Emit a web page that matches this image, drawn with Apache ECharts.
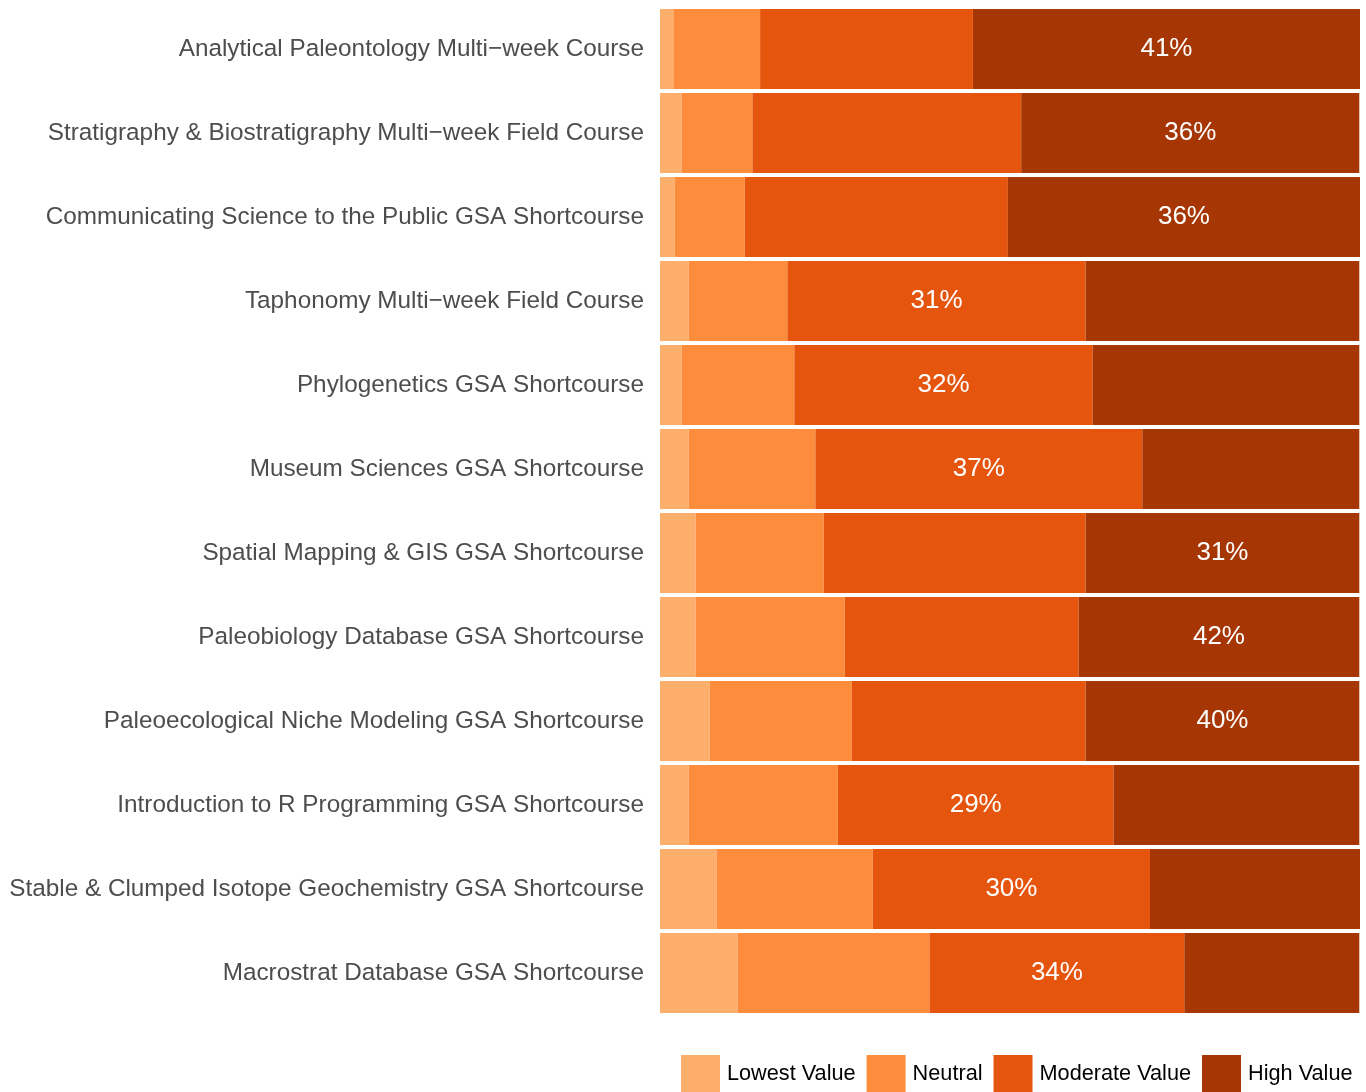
<!DOCTYPE html>
<html>
<head>
<meta charset="utf-8">
<script src="https://cdn.jsdelivr.net/npm/echarts@6/dist/echarts.min.js"></script>
<style>
  html, body { margin: 0; padding: 0; background: #fff; }
  #main { width: 1366px; height: 1092px; }
</style>
</head>
<body>
<div id="main"></div>
<script>
// courses, top to bottom
const courses = [
  'Analytical Paleontology Multi\u2212week Course',
  'Stratigraphy & Biostratigraphy Multi\u2212week Field Course',
  'Communicating Science to the Public GSA Shortcourse',
  'Taphonomy Multi\u2212week Field Course',
  'Phylogenetics GSA Shortcourse',
  'Museum Sciences GSA Shortcourse',
  'Spatial Mapping & GIS GSA Shortcourse',
  'Paleobiology Database GSA Shortcourse',
  'Paleoecological Niche Modeling GSA Shortcourse',
  'Introduction to R Programming GSA Shortcourse',
  'Stable & Clumped Isotope Geochemistry GSA Shortcourse',
  'Macrostrat Database GSA Shortcourse'
];

// share of responses (%)
const lowest   = [2.0, 3.1, 2.1, 4.1, 3.1, 4.1, 5.1, 5.1, 7.1, 4.1, 8.1, 11.1];
const neutral  = [12.3, 10.1, 10.0, 14.1, 16.1, 18.1, 18.3, 21.3, 20.3, 21.3, 22.3, 27.4];
const moderate = [30.4, 38.4, 37.6, 42.6, 42.6, 46.7, 37.4, 33.4, 33.4, 39.4, 39.6, 36.4];
const high     = [55.3, 48.3, 50.3, 39.1, 38.1, 31.0, 39.1, 40.1, 39.1, 35.1, 30.0, 25.0];

// printed percentage per row and which segment carries it
const pctLabels = [41, 36, 36, 31, 32, 37, 31, 42, 40, 29, 30, 34];
const pctOn = ['High Value', 'High Value', 'High Value', 'Moderate Value', 'Moderate Value',
  'Moderate Value', 'High Value', 'High Value', 'High Value', 'Moderate Value',
  'Moderate Value', 'Moderate Value'];

const levels = ['Lowest Value', 'Neutral', 'Moderate Value', 'High Value'];
const colors = ['#FDAE6B', '#FD8D3C', '#E6550D', '#A63603'];
const values = [lowest, neutral, moderate, high];

const chart = echarts.init(document.getElementById('main'));

const series = levels.map((name, s) => ({
  name: name,
  type: 'bar',
  stack: 'total',
  barCategoryGap: '4.8%',
  itemStyle: { color: colors[s] },
  emphasis: { disabled: true },
  data: values[s].map((v, i) => ({
    value: v,
    label: {
      show: pctOn[i] === name,
      position: 'inside',
      formatter: pctLabels[i] + '%',
      color: '#fff',
      fontSize: 26,
      fontFamily: 'Liberation Sans, Arial, sans-serif'
    }
  }))
}));

chart.setOption({
  animation: false,
  grid: { left: 660, right: 6, top: 7, bottom: 77 },
  legend: {
    data: levels,
    left: 681,
    top: 1055,
    width: 700,
    padding: 0,
    itemWidth: 39,
    itemHeight: 39,
    itemGap: 11,
    icon: 'rect',
    textStyle: {
      color: '#000',
      fontSize: 21.7,
      fontFamily: 'Liberation Sans, Arial, sans-serif',
      padding: [0, 0, 0, 2]
    }
  },
  xAxis: {
    type: 'value',
    min: 0,
    max: 100,
    show: false
  },
  yAxis: {
    type: 'category',
    data: courses,
    inverse: true,
    axisLine: { show: false },
    axisTick: { show: false },
    axisLabel: {
      color: '#4D4D4D',
      fontSize: 24.3,
      margin: 16,
      padding: [3, 0, 0, 0],
      fontFamily: 'Liberation Sans, Arial, sans-serif'
    }
  },
  series: series
});
</script>
</body>
</html>
